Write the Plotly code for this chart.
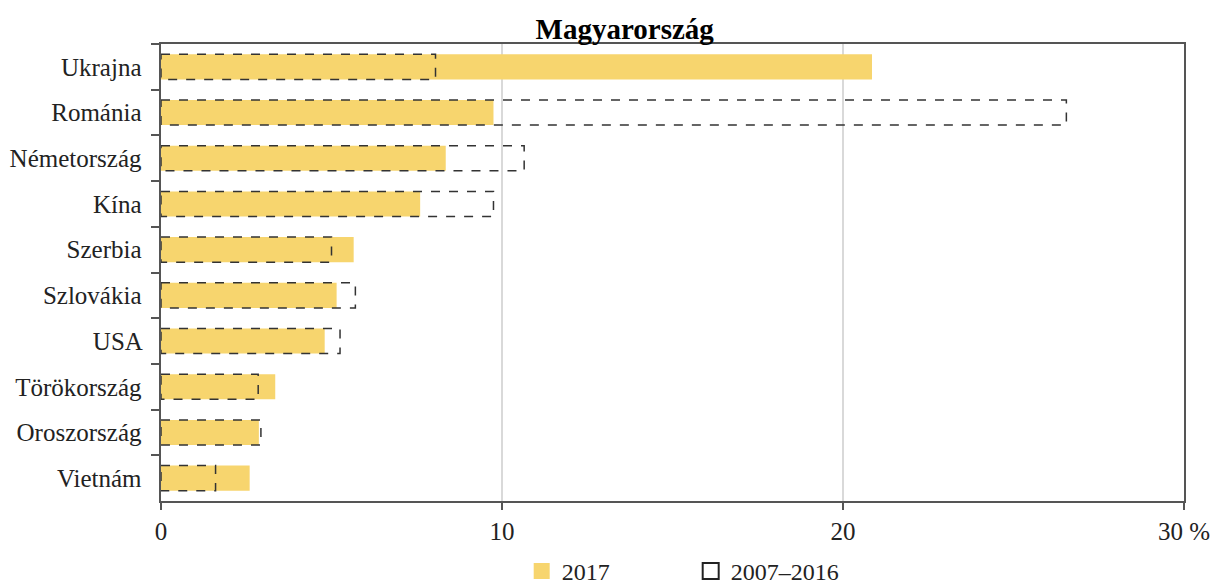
import plotly.graph_objects as go

countries = ["Ukrajna", "Románia", "Németország", "Kína", "Szerbia",
             "Szlovákia", "USA", "Törökország", "Oroszország", "Vietnám"]
val_2017 = [20.85, 9.75, 8.35, 7.6, 5.65, 5.15, 4.8, 3.35, 2.87, 2.6]
val_0716 = [8.05, 26.55, 10.65, 9.75, 5.0, 5.7, 5.25, 2.85, 2.93, 1.6]
x_tickvals = [0, 10, 20, 30]
x_ticktext = ["0", "10", "20", "30 %"]
title_text = "Magyarország"

FONT = "Liberation Serif"
YELLOW = "#F7D56E"
BAR_W = 0.55

fig = go.Figure()
fig.add_trace(go.Bar(
    y=countries, x=val_2017, orientation="h", name="2017", showlegend=False,
    marker=dict(color=YELLOW, line=dict(width=0)), width=BAR_W,
))
# legend helpers
fig.add_trace(go.Scatter(
    x=[None], y=[None], mode="markers", name="2017",
    marker=dict(symbol="square", size=20, color=YELLOW, line=dict(width=0)),
))
fig.add_trace(go.Scatter(
    x=[None], y=[None], mode="markers", name="2007–2016",
    marker=dict(symbol="square-open", size=20, color="#222",
                line=dict(width=2, color="#222")),
))

for i, v in enumerate(val_0716):
    fig.add_shape(type="rect", xref="x", yref="y",
                  x0=0, x1=v, y0=i - BAR_W / 2, y1=i + BAR_W / 2,
                  line=dict(color="#333", width=1.5, dash="dash"),
                  fillcolor="rgba(0,0,0,0)", layer="above")

fig.update_layout(
    width=1226, height=585,
    margin=dict(l=153, r=50, t=36, b=92, autoexpand=False),
    paper_bgcolor="white", plot_bgcolor="white",
    font=dict(family=FONT, size=25, color="#222"),
    title=dict(text="<b>" + title_text + "</b>", x=0.503, xanchor="center",
               y=0.981, yanchor="top", font=dict(family=FONT, size=29, color="#000")),
    showlegend=True,
    legend=dict(orientation="h", xref="container", x=0.419, xanchor="left",
                y=-0.105, yanchor="top",
                font=dict(family=FONT, size=24), itemwidth=30,
                entrywidth=124),
    bargap=0.45,
)
fig.update_xaxes(
    range=[0, 30], tickvals=x_tickvals, ticktext=x_ticktext,
    showgrid=True, gridcolor="#d9d9d9", gridwidth=1.5,
    showline=True, linecolor="#555", linewidth=2, mirror=True,
    ticks="outside", ticklen=7, tickcolor="#555", tickwidth=1.5,
    zeroline=False, automargin=False,
)
fig.update_yaxes(
    categoryorder="array", categoryarray=countries, autorange="reversed",
    showline=True, linecolor="#555", linewidth=2, mirror=True,
    ticks="outside", tickson="boundaries", ticklen=8, tickcolor="#555", tickwidth=1.5,
    showgrid=False, ticksuffix="  ", automargin=False,
)

fig.write_html("out.html")
